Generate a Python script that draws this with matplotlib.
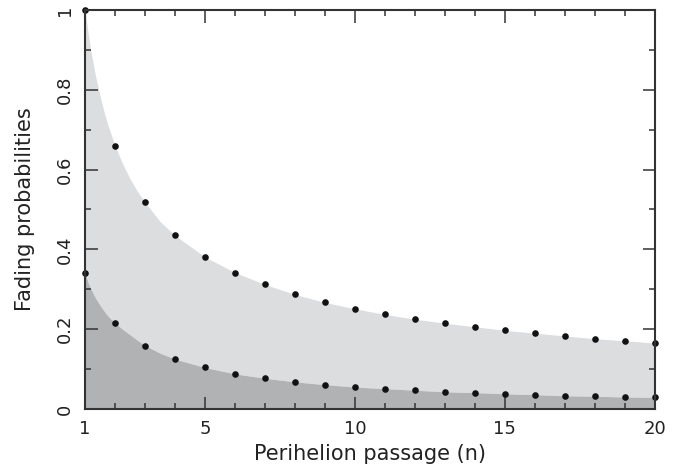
import numpy as np
import matplotlib.pyplot as plt
from matplotlib.ticker import MultipleLocator, FormatStrFormatter

# perihelion passage number
n = np.arange(1, 21)

# fading probabilities
p_upper = [1.0, 0.66, 0.518, 0.435, 0.381, 0.342, 0.312, 0.287, 0.267, 0.251,
           0.237, 0.225, 0.215, 0.206, 0.197, 0.190, 0.183, 0.176, 0.171, 0.165]
p_lower = [0.340, 0.216, 0.159, 0.125, 0.104, 0.088, 0.077, 0.068, 0.061, 0.055,
           0.051, 0.047, 0.043, 0.041, 0.038, 0.036, 0.033, 0.032, 0.030, 0.029]

# extra readings of the shaded edges where they bend between the first dots
edge_n = [1.1, 1.2, 1.35, 1.5, 1.65, 1.8, 2.25, 2.5, 2.75, 3.5]
edge_upper = [0.945, 0.895, 0.835, 0.785, 0.74, 0.703, 0.615, 0.577, 0.545, 0.47]
edge_lower = [0.318, 0.300, 0.278, 0.260, 0.244, 0.230, 0.200, 0.186, 0.172, 0.14]

fig = plt.figure(figsize=(6.8, 4.72), dpi=100)
ax = fig.add_axes([0.125, 0.1335, 0.838, 0.8455])

# fill edges = dots + extra edge readings, sorted along n
xs = np.concatenate([n, edge_n])
order = np.argsort(xs)
xs = xs[order]
up = np.concatenate([p_upper, edge_upper])[order]
lo = np.concatenate([p_lower, edge_lower])[order]

ax.fill_between(xs, lo, up, color='#dcdddf', lw=0, zorder=1)
ax.fill_between(xs, 0, lo, color='#b1b2b4', lw=0, zorder=1)

ax.scatter(n, p_upper, s=14, color='#111111', zorder=3, clip_on=False)
ax.scatter(n, p_lower, s=14, color='#111111', zorder=3, clip_on=False)

ax.set_xlim(1, 20)
ax.set_ylim(0, 1)
ax.set_xticks([1, 5, 10, 15, 20])
ax.xaxis.set_minor_locator(MultipleLocator(1))
ax.yaxis.set_major_locator(MultipleLocator(0.2))
ax.yaxis.set_minor_locator(MultipleLocator(0.1))
ax.yaxis.set_major_formatter(FormatStrFormatter('%g'))

for s in ax.spines.values():
    s.set_linewidth(1.5)
    s.set_color('#333333')
    s.set_zorder(4)

ax.tick_params(which='both', direction='in', top=True, right=True,
               colors='#333333', labelcolor='#222222', labelsize=13, width=1.1)
ax.tick_params(which='major', length=9, pad=8)
ax.tick_params(which='minor', length=4.5)
for lab in ax.get_yticklabels():
    lab.set_rotation(90)
    lab.set_va('center')

ax.set_xlabel('Perihelion passage (n)', fontsize=15, color='#222222', labelpad=4)
ax.set_ylabel('Fading probabilities', fontsize=15, color='#222222', labelpad=15)

fig.savefig('out.png', dpi=100)
